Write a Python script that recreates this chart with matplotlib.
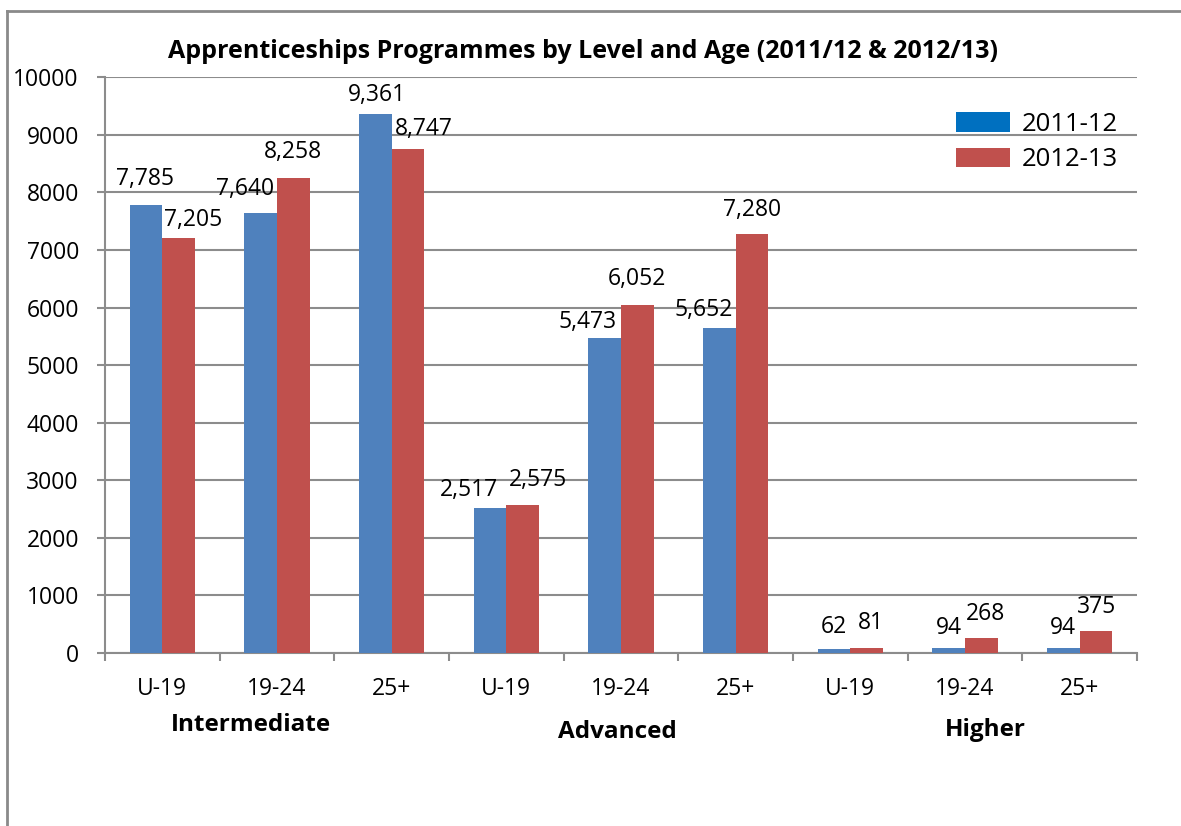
import numpy as np
import matplotlib
matplotlib.use("Agg")
import matplotlib.pyplot as plt
from matplotlib.patches import Patch
from matplotlib.lines import Line2D
from matplotlib.transforms import blended_transform_factory

# ---- data ----
age_labels = ["U-19", "19-24", "25+", "U-19", "19-24", "25+", "U-19", "19-24", "25+"]
level_labels = ["Intermediate", "Advanced", "Higher"]
series_names = ["2011-12", "2012-13"]
values_2011_12 = [7785, 7640, 9361, 2517, 5473, 5652, 62, 94, 94]
values_2012_13 = [7205, 8258, 8747, 2575, 6052, 7280, 81, 268, 375]
y_ticks = [0, 1000, 2000, 3000, 4000, 5000, 6000, 7000, 8000, 9000, 10000]

# label nudges (pixels): horizontal shift and height of label centre above bar top
nudge_2011 = [(-1, 28), (-16, 26), (2, 21), (-21, 20), (-17, 18), (-16, 20), (0, 24), (0, 22), (0, 22)]
nudge_2012 = [(14, 20), (0, 28), (16, 22), (15, 27), (0, 28), (0, 26), (4, 27), (4, 26), (1, 26)]

plt.rcParams['font.family'] = ['Open Sans', 'DejaVu Sans']

W, H = 1181, 826
fig = plt.figure(figsize=(W / 100, H / 100), dpi=100)
fig.patch.set_facecolor('white')

def fx(px):
    return px / W

def fy(py):
    return 1 - py / H

ax_left, ax_right, ax_top, ax_bottom = 105, 1137, 77.3, 653
ax = fig.add_axes([fx(ax_left), fy(ax_bottom), fx(ax_right - ax_left), (ax_bottom - ax_top) / H])

blue = '#4F81BD'
red = '#C0504D'
grid_c = '#8c8c8c'

x = np.arange(len(age_labels))
bw = 1 / 3.5
b1 = ax.bar(x - bw / 2, values_2011_12, width=bw, color=blue, zorder=3)
b2 = ax.bar(x + bw / 2, values_2012_13, width=bw, color=red, zorder=3)

ax.set_xlim(-0.5, len(age_labels) - 0.5)
ax.set_ylim(0, 10000)
ax.set_yticks(y_ticks)
ax.set_yticklabels([str(v) for v in y_ticks])
ax.yaxis.grid(True, color=grid_c, linewidth=1.5, zorder=0)
ax.set_axisbelow(True)

for s in ['top', 'right']:
    ax.spines[s].set_visible(False)
for s in ['left', 'bottom']:
    ax.spines[s].set_color(grid_c)
    ax.spines[s].set_linewidth(1.5)

ax.tick_params(axis='y', length=5.8, width=1.5, color=grid_c, pad=13, labelsize=16.5, labelcolor='black')
ax.set_xticks(x)
ax.set_xticklabels(age_labels)
ax.tick_params(axis='x', which='major', length=0, pad=17, labelsize=16.5, labelcolor='black')
ax.set_xticks(np.arange(-0.5, len(age_labels)), minor=True)
ax.tick_params(axis='x', which='minor', length=5.8, width=1.5, color=grid_c)

# data labels
def add_labels(bars, vals, nudges):
    for rect, v, (dx, dy) in zip(bars, vals, nudges):
        cx = rect.get_x() + rect.get_width() / 2
        ax.annotate(f"{v:,}", xy=(cx, v), xytext=(dx, dy - 8), textcoords='offset pixels',
                    ha='center', va='baseline', fontsize=16.5, color='black', zorder=5,
                    annotation_clip=False)

add_labels(b1, values_2011_12, nudge_2011)
add_labels(b2, values_2012_13, nudge_2012)

# level labels
level_x = [0.771, 3.965, 7.174]
level_y = [723, 730, 728]
lvl_tr = blended_transform_factory(ax.transData, fig.transFigure)
for lab, lx, ly in zip(level_labels, level_x, level_y):
    ax.text(lx, fy(ly + 8), lab, transform=lvl_tr,
            ha='center', va='baseline', fontsize=17.5, fontweight='bold', color='black')

# title
fig.text(fx(583.5), fy(58), "Apprenticeships Programmes by Level and Age (2011/12 & 2012/13)",
         ha='center', va='baseline', fontsize=18, fontweight='bold', color='black')

# legend
handles = [Patch(facecolor='#0070C0', edgecolor='none'), Patch(facecolor=red, edgecolor='none')]
ax.legend(handles, series_names, loc='upper left', bbox_to_anchor=(fx(956), fy(112)),
          bbox_transform=fig.transFigure, frameon=False, borderpad=0, borderaxespad=0,
          fontsize=18.5, handlelength=2.1, handleheight=0.78, handletextpad=0.45, labelspacing=0.4)

# chart border (left and top edges visible)
fig.add_artist(Line2D([fx(7), fx(7)], [0, fy(11)], transform=fig.transFigure, color='#8a8a8a', linewidth=2))
fig.add_artist(Line2D([fx(7), 1], [fy(11), fy(11)], transform=fig.transFigure, color='#8a8a8a', linewidth=2))

fig.savefig('out.png', dpi=100)
